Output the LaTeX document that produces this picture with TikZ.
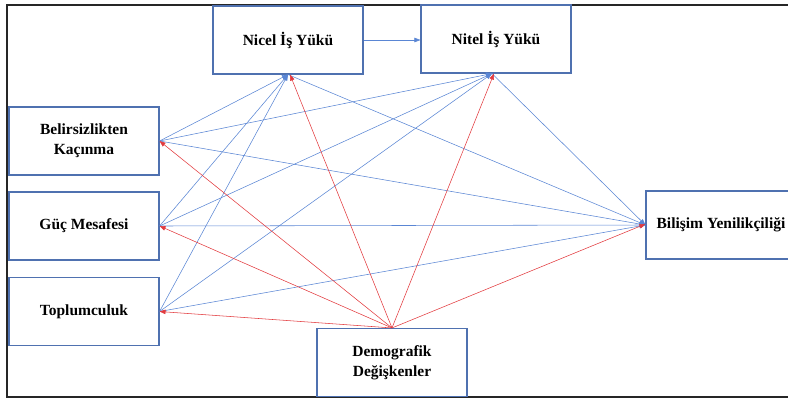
\documentclass[tikz,border=0pt]{standalone}
\usepackage{fontspec}
\setmainfont{Liberation Serif}
\usetikzlibrary{arrows.meta}
\definecolor{boxblue}{HTML}{4F71B0}
\definecolor{lineblue}{HTML}{5A86D4}
\definecolor{linered}{HTML}{E23A3E}
\tikzset{
  varbox/.style={draw=boxblue, line width=1.1pt, fill=white, minimum width=150pt, minimum height=68pt,
    align=center, inner sep=0pt, font=\fontsize{15.5}{20}\selectfont\bfseries},
  bluearrow/.style={draw=lineblue, line width=0.55pt, -{Triangle[length=6pt,width=4.5pt]}},
  redarrow/.style={draw=linered, line width=0.55pt, -{Triangle[length=6pt,width=4.5pt]}},
  frameline/.style={draw=black!85, line width=2pt}
}
\begin{document}
\begin{tikzpicture}[x=1pt,y=-1pt]
\useasboundingbox (0,0) rectangle (788,399);
\draw[frameline] (795,4.5) -- (7,4.5) -- (7,396.5) -- (795,396.5);
% nodes
\node[varbox] (nicel) at (288,40) {Nicel İş Yükü};
\node[varbox] (nitel) at (496,39) {Nitel İş Yükü};
\node[varbox] (belir) at (84,141) {Belirsizlikten\\Kaçınma};
\node[varbox] (guc) at (84,226) {Güç Mesafesi};
\node[varbox] (toplum) at (84,311.5) {Toplumculuk};
\node[varbox] (demog) at (392,362.5) {Demografik\\Değişkenler};
\node[varbox] (bilisim) at (721,225) {Bilişim Yenilikçiliği};
\coordinate (nitelS) at ([xshift=-4pt]nitel.south);
% blue connectors
\foreach \s in {belir,guc,toplum}{
  \draw[bluearrow] (\s.east) -- (nicel.south);
  \draw[bluearrow] (\s.east) -- (nitelS);
  \draw[bluearrow] (\s.east) -- (bilisim.west);
}
\draw[bluearrow] (nicel.south) -- (bilisim.west);
\draw[bluearrow] (nitelS) -- (bilisim.west);
\draw[bluearrow] (nicel.east) -- (nitel.west |- nicel.east);
% red connectors
\foreach \t in {belir,guc,toplum}{
  \draw[redarrow] (demog.north) -- (\t.east);
}
\draw[redarrow] (demog.north) -- ([xshift=2pt]nicel.south);
\draw[redarrow] (demog.north) -- ([xshift=-2pt]nitel.south);
\draw[redarrow] (demog.north) -- ([yshift=1pt]bilisim.west);
\end{tikzpicture}
\end{document}
